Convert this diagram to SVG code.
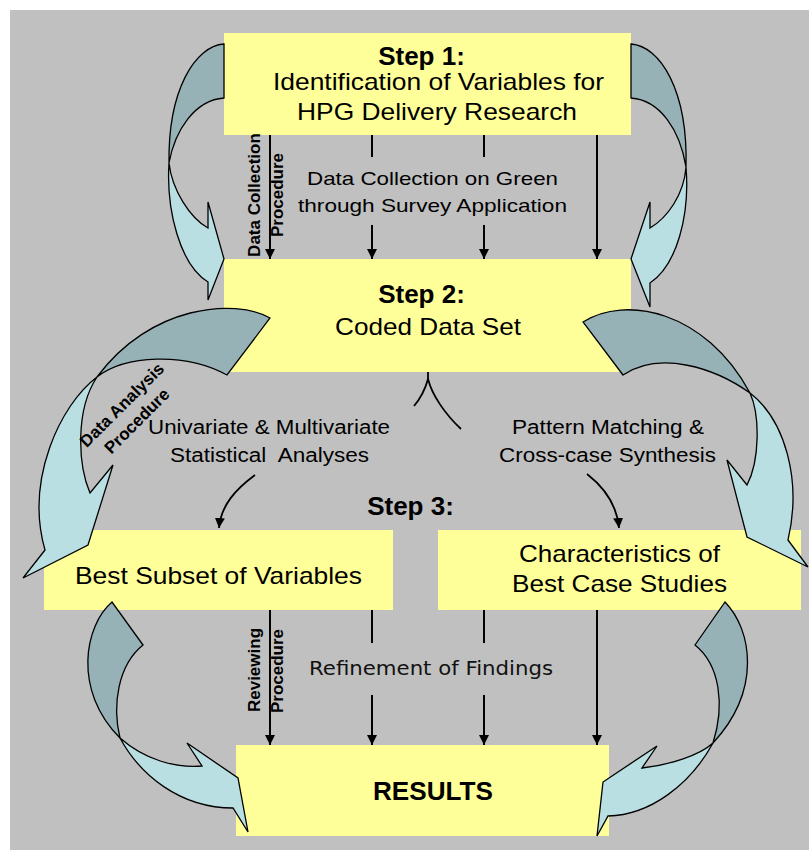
<svg xmlns="http://www.w3.org/2000/svg" width="809" height="850" viewBox="0 0 809 850">
<defs>
<style>
.bg{fill:#c0c0c0}
.box{fill:#ffff99}
.dk{fill:#96b2b6;stroke:#000;stroke-width:1.3;stroke-linejoin:miter}
.lt{fill:#b9dfe3;stroke:#000;stroke-width:1.3;stroke-linejoin:miter}
.ln{fill:none;stroke:#000;stroke-width:2}
.cv{fill:none;stroke:#000;stroke-width:1.8}
.t{font-family:"Liberation Sans",Arial,sans-serif;fill:#000;text-anchor:middle}
.b{font-weight:bold}
.v{font-family:"DejaVu Sans",Verdana,sans-serif;fill:#111;text-anchor:middle}
</style>
<marker id="ah" markerUnits="userSpaceOnUse" markerWidth="11" markerHeight="11" refX="10" refY="5" orient="auto">
<path d="M0,0 L10,5 L0,10 Z" fill="#000"/>
</marker>
</defs>
<rect class="bg" x="10" y="10" width="799" height="840"/>

<g id="step1"><rect class="box" x="224" y="33" width="407" height="102"/>
<text class="t b" x="421.5" y="65" font-size="26">Step 1:</text>
<text class="t" x="438.5" y="90" font-size="24" textLength="331" lengthAdjust="spacingAndGlyphs">Identification of Variables for</text>
<text class="t" x="437" y="120" font-size="24" textLength="280" lengthAdjust="spacingAndGlyphs">HPG Delivery Research</text></g>

<g id="step2"><rect class="box" x="224" y="259" width="407" height="113"/>
<text class="t b" x="421.5" y="303" font-size="26">Step 2:</text>
<text class="t" x="428" y="335" font-size="24" textLength="186" lengthAdjust="spacingAndGlyphs">Coded Data Set</text></g>

<g id="step3label"><text class="t b" x="410.5" y="515" font-size="26">Step 3:</text></g>

<g id="bestSubset"><rect class="box" x="44" y="530" width="349" height="80"/>
<text class="t" x="218.5" y="584" font-size="24" textLength="287" lengthAdjust="spacingAndGlyphs">Best Subset of Variables</text></g>

<g id="characteristics"><rect class="box" x="438" y="530" width="363" height="80"/>
<text class="t" x="619.5" y="562" font-size="24" textLength="201" lengthAdjust="spacingAndGlyphs">Characteristics of</text>
<text class="t" x="619.5" y="592" font-size="24" textLength="215" lengthAdjust="spacingAndGlyphs">Best Case Studies</text></g>

<g id="results"><rect class="box" x="236" y="745" width="373" height="91"/>
<text class="t b" x="433" y="800" font-size="26" textLength="120" lengthAdjust="spacingAndGlyphs">RESULTS</text></g>

<g id="connectors">
<line class="ln" x1="270" y1="135" x2="270" y2="259" marker-end="url(#ah)"/>
<line class="ln" x1="372" y1="135" x2="372" y2="157"/>
<line class="ln" x1="372" y1="225" x2="372" y2="259" marker-end="url(#ah)"/>
<line class="ln" x1="484" y1="135" x2="484" y2="157"/>
<line class="ln" x1="484" y1="225" x2="484" y2="259" marker-end="url(#ah)"/>
<line class="ln" x1="597" y1="135" x2="597" y2="259" marker-end="url(#ah)"/>

<line class="ln" x1="270" y1="610" x2="270" y2="745" marker-end="url(#ah)"/>
<line class="ln" x1="372" y1="610" x2="372" y2="643"/>
<line class="ln" x1="372" y1="695" x2="372" y2="745" marker-end="url(#ah)"/>
<line class="ln" x1="484" y1="610" x2="484" y2="643"/>
<line class="ln" x1="484" y1="695" x2="484" y2="745" marker-end="url(#ah)"/>
<line class="ln" x1="597" y1="610" x2="597" y2="745" marker-end="url(#ah)"/>

<path class="cv" d="M428,372 L428,379 C425,390 420,399 414,406"/>
<path class="cv" d="M428,379 C432,395 445,414 461,429"/>
<path class="cv" d="M255,475 C236,489 221,505 219,528" marker-end="url(#ah)"/>
<path class="cv" d="M587,474 C605,488 617,505 619,528" marker-end="url(#ah)"/>

<!-- top-left curved arrow -->
<path class="dk" d="M224,44 C195,46 168,90 169,163 C175,130 195,100 224,98 Z"/>
<path class="lt" d="M169,163 C166,210 180,265 208,282 L208,300 L224,259 L208,202 L208,228 C190,218 172,190 169,163 Z"/>
<!-- top-right curved arrow -->
<path class="dk" d="M631,44 C660,46 688,90 686,167 C680,130 660,100 631,98 Z"/>
<path class="lt" d="M686,167 C690,215 677,265 650,283 L650,307 L631,259 L650,202 L650,228 C667,218 684,195 686,167 Z"/>
<!-- step2 left curved arrow -->
<path class="dk" d="M270,318 C235,298 150,305 97,377 C125,355 185,352 227,375 Z"/>
<path class="lt" d="M97,377 C60,405 25,480 45,550 L23,578 L88,545 L113,465 L90,493 C78,465 75,410 97,377 Z"/>
<!-- step2 right curved arrow -->
<path class="dk" d="M583,322 C625,295 705,310 750,393 C715,368 660,350 623,375 Z"/>
<path class="lt" d="M750,393 C785,420 802,480 788,540 L808,567 L747,537 L727,460 L747,485 C760,460 760,415 750,393 Z"/>
<!-- bottom-left curved arrow -->
<path class="dk" d="M112,602 C85,625 72,690 120,738 C112,705 118,665 143,645 Z"/>
<path class="lt" d="M120,738 C140,775 180,808 233,808 L248,832 L238,778 L187,743 L202,766 C175,768 145,760 120,738 Z"/>
<!-- bottom-right curved arrow -->
<path class="dk" d="M725,602 C752,630 762,690 713,743 C725,705 720,665 695,645 Z"/>
<path class="lt" d="M713,743 C690,785 650,815 608,816 L597,836 L603,782 L657,746 L642,768 C670,765 700,755 713,743 Z"/>
</g>

<g id="labels">
<text class="t" x="432.5" y="185" font-size="19" fill="#111" textLength="251" lengthAdjust="spacingAndGlyphs">Data Collection on Green</text>
<text class="t" x="432.5" y="212" font-size="19" fill="#111" textLength="269" lengthAdjust="spacingAndGlyphs">through Survey Application</text>
<text class="t b" font-size="17" transform="translate(260,195) rotate(-90)">Data Collection</text>
<text class="t b" font-size="17" transform="translate(283,195) rotate(-90)">Procedure</text>
<text class="t b" font-size="17" transform="translate(126,409) rotate(-45)">Data Analysis</text>
<text class="t b" font-size="17" transform="translate(141,425) rotate(-45)">Procedure</text>
<text class="t" x="269" y="434" font-size="20" textLength="242" lengthAdjust="spacingAndGlyphs">Univariate &amp; Multivariate</text>
<text class="t" x="269.5" y="462" font-size="20" textLength="199" lengthAdjust="spacingAndGlyphs" style="white-space:pre">Statistical  Analyses</text>
<text class="t" x="608" y="434" font-size="20" textLength="192" lengthAdjust="spacingAndGlyphs">Pattern Matching &amp;</text>
<text class="t" x="607.5" y="462" font-size="20" textLength="217" lengthAdjust="spacingAndGlyphs">Cross-case Synthesis</text>
<text class="t b" font-size="17" transform="translate(260,670) rotate(-90)">Reviewing</text>
<text class="t b" font-size="17" transform="translate(283,671) rotate(-90)">Procedure</text>
<text class="v" x="431" y="675" font-size="20" textLength="244" lengthAdjust="spacingAndGlyphs">Refinement of Findings</text>
</g>
</svg>
